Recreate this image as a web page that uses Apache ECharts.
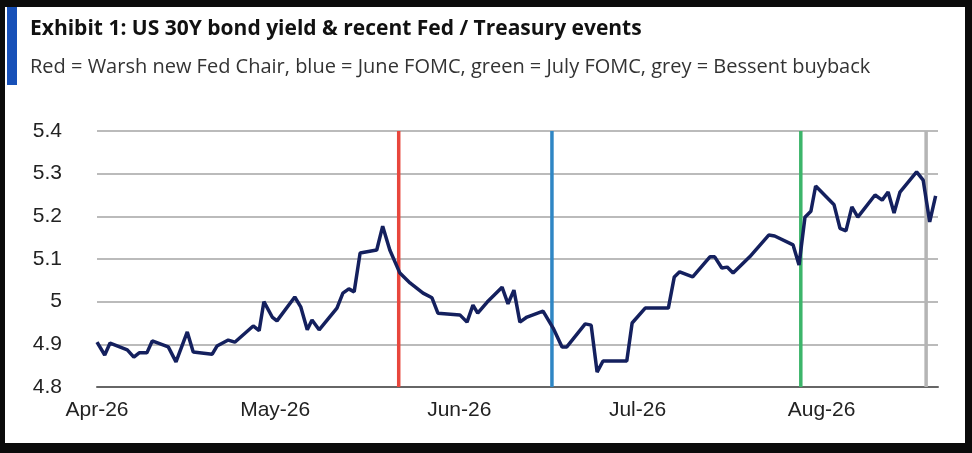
<!DOCTYPE html>
<html><head><meta charset="utf-8">
<script src="https://cdn.jsdelivr.net/npm/echarts@6/dist/echarts.min.js"></script>
<style>html,body{margin:0;padding:0;background:#0b0b0b;}#c{width:972px;height:453px;}</style>
</head><body><div id="c"></div>
<script>
// day offsets from 1 Apr 2026
const dayOffsets = [0,1.3,2.2,5.1,6.2,7.1,8.4,9.3,12.0,13.3,15.2,16.2,19.4,20.2,22.1,23.2,26.3,27.3,28.1,29.5,30.3,33.3,34.3,35.4,36.2,37.4,40.4,41.4,42.4,43.3,44.3,47.1,48.1,49.3,51.0,52.7,54.9,56.4,57.4,61.1,62.3,63.3,64.1,65.7,68.2,69.2,70.2,71.2,72.4,75.1,76.8,78.3,79.1,82.2,83.2,84.2,85.2,89.2,90.1,92.3,96.2,97.2,98.1,100.3,103.2,104.0,105.2,106.1,107.1,109.9,113.1,114.1,117.2,118.2,119.2,120.2,121.0,124.1,125.1,126.1,127.1,128.1,131.0,132.2,133.2,134.2,135.2,138.0,139.1,140.2,141.2];
const yields = [4.905,4.875,4.903,4.887,4.870,4.880,4.880,4.908,4.894,4.859,4.929,4.882,4.877,4.896,4.910,4.905,4.943,4.932,5.000,4.964,4.955,5.011,4.988,4.934,4.957,4.934,4.985,5.020,5.030,5.023,5.114,5.121,5.177,5.121,5.067,5.044,5.020,5.009,4.973,4.969,4.952,4.992,4.973,4.999,5.034,4.995,5.027,4.952,4.964,4.978,4.938,4.894,4.894,4.948,4.945,4.835,4.861,4.861,4.950,4.985,4.985,5.058,5.070,5.058,5.105,5.105,5.079,5.081,5.067,5.105,5.156,5.154,5.133,5.086,5.198,5.212,5.271,5.227,5.172,5.166,5.222,5.198,5.250,5.238,5.257,5.208,5.257,5.304,5.285,5.187,5.248];
const monthTicks = [0,30,61,91,122];
const monthLabels = ['Apr-26','May-26','Jun-26','Jul-26','Aug-26'];
const eventDays = [50.8,76.6,118.5,139.6];
const eventColors = ['#e8463c','#2f86c4','#3cb56a','#b5b5b5'];

const chart = echarts.init(document.getElementById('c'));
chart.setOption({
  backgroundColor:'#0b0b0b',
  animation:false,
  graphic:[
    {type:'rect',shape:{x:5,y:7,width:960,height:436},style:{fill:'#ffffff'},z:-10},
    {type:'rect',shape:{x:7,y:7,width:10,height:78},style:{fill:'#1750b8'}},
    {type:'text',left:30,top:19,style:{text:'Exhibit 1: US 30Y bond yield & recent Fed / Treasury events',font:'bold 21px "Open Sans", "Noto Sans", sans-serif',fill:'#111'}},
    {type:'text',left:30,top:57,style:{text:'Red = Warsh new Fed Chair, blue = June FOMC, green = July FOMC, grey = Bessent buyback',font:'20px "Open Sans", "Noto Sans", sans-serif',fill:'#333'}}
  ],
  grid:{left:97,right:34,top:131,bottom:66},
  xAxis:{type:'value',min:0,max:141.6,
    axisLine:{show:true,lineStyle:{color:'#666',width:2}},
    axisTick:{show:false},splitLine:{show:false},
    axisLabel:{customValues:monthTicks,formatter:v=>monthLabels[monthTicks.indexOf(Math.round(v))]||'',
      color:'#222',fontSize:21,fontFamily:'Liberation Sans, Arial',margin:13}},
  yAxis:{type:'value',min:4.8,max:5.4,interval:0.1,
    axisLine:{show:false},axisTick:{show:false},
    splitLine:{lineStyle:{color:'#bbb',width:2}},
    axisLabel:{formatter:v=>String(+v.toFixed(1)),color:'#222',fontSize:21,fontFamily:'Liberation Sans, Arial',margin:35}},
  series:[
    {type:'line',data:dayOffsets.map((d,i)=>[d,yields[i]]),symbol:'none',
     lineStyle:{color:'#14205e',width:3.5},z:5},
    ...eventDays.map((d,i)=>({type:'line',data:[[d,4.8],[d,5.4]],symbol:'none',silent:true,
      lineStyle:{color:eventColors[i],width:3.5},z:3}))
  ]
});
</script></body></html>
